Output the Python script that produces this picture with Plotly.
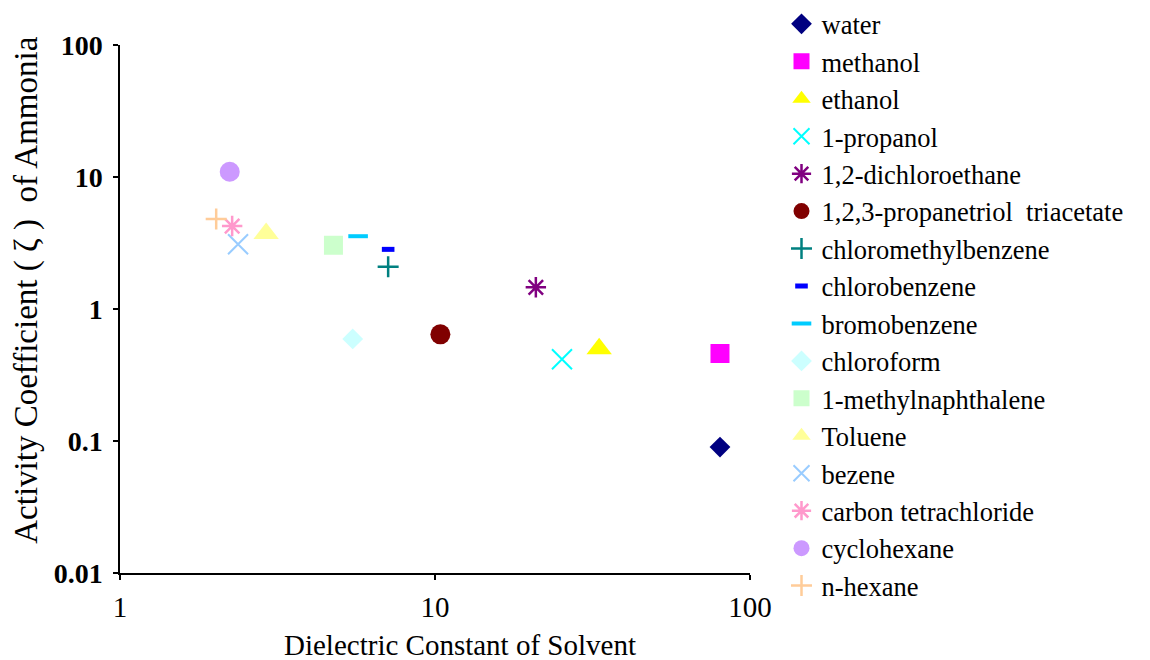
import plotly.graph_objects as go

solvents = ["water", "methanol", "ethanol", "1-propanol", "1,2-dichloroethane",
            "1,2,3-propanetriol  triacetate", "chloromethylbenzene", "chlorobenzene",
            "bromobenzene", "chloroform", "1-methylnaphthalene", "Toluene", "bezene",
            "carbon tetrachloride", "cyclohexane", "n-hexane"]
dielectric = [80.3, 80.3, 33.2, 25.3, 20.9, 10.4, 7.1, 7.1, 5.7, 5.48, 4.76, 2.91, 2.37, 2.27, 2.23, 2.02]
activity = [0.090, 0.46, 0.50, 0.416, 1.46, 0.643, 2.09, 2.83, 3.56, 0.593, 3.04, 3.74, 3.09, 4.25, 10.96, 4.81]

x_ticks = [1, 10, 100]
y_ticks = [0.01, 0.1, 1, 10, 100]
y_tick_text = ["0.01", "0.1", "1", "10", "100"]
x_title = "Dielectric Constant of Solvent"
y_title = "Activity Coefficient ( ζ )  of Ammonia"

colors = ["#000080", "#FF00FF", "#FFFF00", "#00FFFF", "#800080", "#800000", "#008080",
          "#0000FF", "#00CCFF", "#CCFFFF", "#CCFFCC", "#FFFF99", "#99CCFF", "#FF99CC",
          "#CC99FF", "#FFCC99"]
symbols = ["diamond", "square", "triangle-up", "x-thin-open", "asterisk-open", "circle",
           "cross-thin-open", "line-ew-open", "line-ew-open", "diamond", "square",
           "triangle-up", "x-thin-open", "asterisk-open", "circle", "cross-thin-open"]
sizes = [16, 19, 22, 20, 17, 20, 15, 9, 14, 16, 19, 22, 20, 17, 20, 15]
line_w = [0, 0, 0, 2, 2.5, 0, 2.5, 5, 4, 0, 0, 0, 2, 2.5, 0, 2.5]

fig = go.Figure()
for i, name in enumerate(solvents):
    fig.add_trace(go.Scatter(
        x=[dielectric[i]], y=[activity[i]], mode="markers", name=name,
        legendgroup=name,
        marker=dict(symbol=symbols[i], size=sizes[i], color=colors[i],
                    line=dict(color=colors[i], width=line_w[i])),
    ))

font_family = "Liberation Serif"
fig.update_layout(
    width=1150, height=660,
    margin=dict(l=120, r=400, t=45, b=87, autoexpand=False),
    plot_bgcolor="white", paper_bgcolor="white",
    font=dict(family=font_family, color="black", size=28),
    showlegend=True,
    legend=dict(x=1.05, y=1.085, xanchor="left", yanchor="top",
                font=dict(family=font_family, size=26.5, color="black"),
                tracegroupgap=0, itemwidth=30, bgcolor="rgba(0,0,0,0)",
                maxheight=660),
    xaxis=dict(type="log", range=[0, 2], tickvals=x_ticks, ticktext=[str(v) for v in x_ticks],
               showgrid=False, zeroline=False, showline=True, linecolor="black", linewidth=1.5,
               ticks="outside", ticklen=5, tickcolor="black", tickwidth=1.5,
               ticklabelstandoff=2,
               tickfont=dict(family=font_family, size=29)),
    yaxis=dict(type="log", range=[-2, 2], tickvals=y_ticks, ticktext=y_tick_text,
               showgrid=False, zeroline=False, showline=True, linecolor="black", linewidth=1.5,
               ticks="outside", ticklen=5, tickcolor="black", tickwidth=1.5,
               ticklabelstandoff=5,
               tickfont=dict(family=font_family, size=28, weight="bold")),
    annotations=[
        dict(text=x_title, xref="paper", yref="paper", x=0.54, y=-0.136,
             xanchor="center", yanchor="middle", showarrow=False,
             font=dict(family=font_family, size=29, color="black")),
        dict(text=y_title, xref="paper", yref="paper", x=-0.148, y=0.536,
             xanchor="center", yanchor="middle", showarrow=False, textangle=-90,
             font=dict(family=font_family, size=33, color="black")),
    ],
)

fig.write_html("out.html")
